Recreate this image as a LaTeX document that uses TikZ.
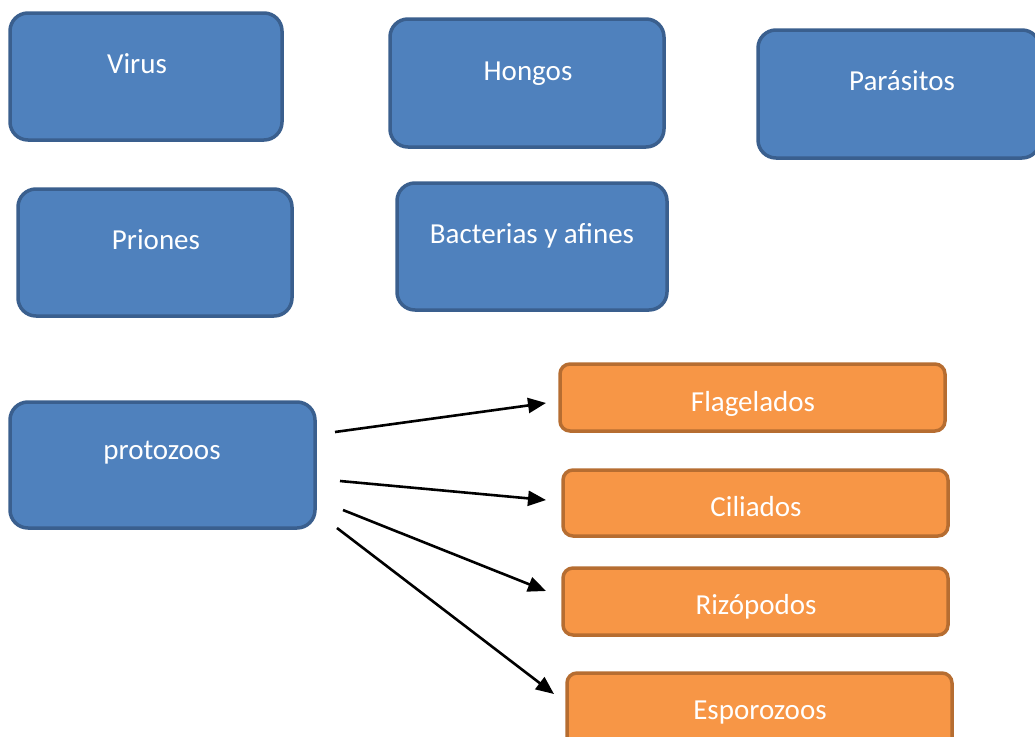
\documentclass[tikz,border=0pt]{standalone}
\usepackage{fontspec}
\setmainfont{Carlito}
\usetikzlibrary{arrows.meta}
\definecolor{bfill}{HTML}{4F81BD}
\definecolor{bdraw}{HTML}{3A5F8E}
\definecolor{ofill}{HTML}{F79646}
\definecolor{odraw}{HTML}{B66D31}
\tikzset{
  bluebox/.style={draw=bdraw, fill=bfill, line width=3.5pt, rounded corners=18pt},
  orangebox/.style={draw=odraw, fill=ofill, line width=3.5pt, rounded corners=10pt},
  lbl/.style={text=white, font=\fontsize{29}{34}\selectfont, anchor=base, inner sep=0pt},
  conn/.style={line width=2.6pt, -{Triangle[length=18pt,width=15pt]}}
}
\begin{document}
\begin{tikzpicture}[x=1pt,y=-1pt]
\useasboundingbox (0,0) rectangle (1035,736);
% blue boxes
\path[bluebox] (10,13) rectangle (282,140) node[pos=0.5] (virus) {};
\path[bluebox] (390,19) rectangle (664,147) node[pos=0.5] (hongos) {};
\path[bluebox] (758,30) rectangle (1040,158) node[pos=0.5] (parasitos) {};
\path[bluebox] (18,189) rectangle (292,316) node[pos=0.5] (priones) {};
\path[bluebox] (397,183) rectangle (667,310) node[pos=0.5] (bacterias) {};
\path[bluebox] (10,402) rectangle (315,528) node[pos=0.5] (protozoos) {};
% orange boxes
\path[orangebox] (560,364) rectangle (945,431) node[pos=0.5] (flag) {};
\path[orangebox] (563,470) rectangle (948,536) node[pos=0.5] (cil) {};
\path[orangebox] (563,568) rectangle (948,635) node[pos=0.5] (riz) {};
\path[orangebox] (567,673) rectangle (952,748) node[pos=0.5] (espo) {};
% labels
\node[lbl] (virusT) at (137,73) {Virus};
\node[lbl] (hongosT) at (528,80) {Hongos};
\node[lbl] (parasitosT) at (902,90) {Parásitos};
\node[lbl] (prionesT) at (156,249) {Priones};
\node[lbl] (bacteriasT) at (532,243) {Bacterias y afines};
\node[lbl] (protozoosT) at (162,459) {protozoos};
\node[lbl] (flagT) at (753,411) {Flagelados};
\node[lbl] (cilT) at (756,516) {Ciliados};
\node[lbl] (rizT) at (756,614) {Rizópodos};
\node[lbl] (espoT) at (760,719) {Esporozoos};
% connectors
\coordinate (s1) at (335,432); \coordinate (e1) at (546,403);
\coordinate (s2) at (340,481); \coordinate (e2) at (546,500);
\coordinate (s3) at (343,510); \coordinate (e3) at (546,591);
\coordinate (s4) at (337,528); \coordinate (e4) at (554,694);
\draw[conn] (s1) -- (e1);
\draw[conn] (s2) -- (e2);
\draw[conn] (s3) -- (e3);
\draw[conn] (s4) -- (e4);
\end{tikzpicture}
\end{document}
